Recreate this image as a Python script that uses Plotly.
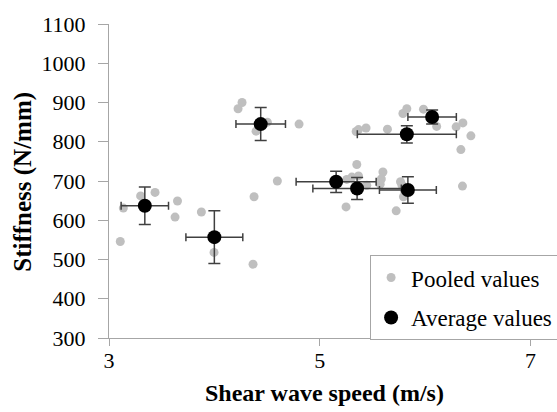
import plotly.graph_objects as go

# Pooled values (shear wave speed m/s, stiffness N/mm)
pooled_x = [3.107, 3.136, 3.30, 3.437, 3.65, 3.627, 3.877, 3.997, 4.367, 4.377,
            4.225, 4.263, 4.396, 4.503, 4.804, 4.598,
            5.352, 5.305, 5.368, 5.257, 5.447, 5.25, 5.60, 5.585, 5.574, 5.767,
            5.78, 5.795, 5.726, 6.355,
            5.368, 5.44, 5.346, 5.643, 5.79, 5.827, 5.985, 6.11, 6.295, 6.359,
            6.435, 6.34]
pooled_y = [546, 631, 662, 671, 649, 608, 621, 518, 488, 660,
            884, 900, 827, 850, 845, 700,
            742, 710, 713, 704, 689, 634, 723, 705, 692, 698,
            690, 660, 624, 687,
            831, 835, 826, 832, 872, 884, 883, 839, 838, 848,
            815, 780]

# Average values with standard deviations
avg_x = [3.34, 4.00, 4.44, 5.156, 5.355, 5.837, 5.827, 6.067]
avg_y = [637, 557, 845, 698, 681, 677, 819, 863]
avg_xerr = [0.225, 0.27, 0.235, 0.38, 0.42, 0.27, 0.47, 0.23]
avg_yerr = [48, 67, 42, 27, 28, 34, 22, 18]

serif = "Liberation Serif"
axis_col = "#a6a6a6"

fig = go.Figure()
fig.add_trace(go.Scatter(
    x=pooled_x, y=pooled_y, mode="markers", name="Pooled values",
    legendgroup="a",
    marker=dict(color="#bfbfbf", size=9),
))
fig.add_trace(go.Scatter(
    x=avg_x, y=avg_y, mode="markers", name="Average values",
    legendgroup="b",
    marker=dict(color="#000000", size=14),
    error_x=dict(type="data", array=avg_xerr, color="#404040", thickness=1.5, width=4),
    error_y=dict(type="data", array=avg_yerr, color="#404040", thickness=1.5, width=6),
))

fig.update_layout(
    width=557, height=412,
    margin=dict(l=109, r=15, t=24, b=74, autoexpand=False),
    paper_bgcolor="white", plot_bgcolor="white",
    font=dict(family=serif, size=22, color="#000000"),
    showlegend=True,
    legend=dict(
        x=0.603, y=0.264, xanchor="left", yanchor="top",
        bordercolor="#a6a6a6", borderwidth=1, bgcolor="white",
        font=dict(family=serif, size=23, color="#000000"),
        tracegroupgap=7, traceorder="grouped",
    ),
    xaxis=dict(
        range=[3, 7.11], tickvals=[3, 5, 7], ticktext=["3", "5", "7"],
        showgrid=False, zeroline=False, showline=True,
        linecolor=axis_col, linewidth=1.3,
        ticks="outside", ticklen=7, tickcolor=axis_col, tickwidth=1.3,
        tickfont=dict(family=serif, size=22, color="#000000"),
        ticklabelstandoff=-5,
    ),
    yaxis=dict(
        range=[300, 1100], tickvals=list(range(300, 1101, 100)),
        showgrid=False, zeroline=False, showline=True,
        linecolor=axis_col, linewidth=1.3,
        ticks="outside", ticklen=10, tickcolor=axis_col, tickwidth=1.3,
        tickfont=dict(family=serif, size=22, color="#000000"),
        ticklabelstandoff=8,
    ),
    annotations=[
        dict(text="<b>Shear wave speed (m/s)</b>", xref="paper", yref="paper",
             x=0.498, y=-0.175, xanchor="center", yanchor="middle",
             showarrow=False, font=dict(family=serif, size=24, color="#000000")),
        dict(text="<b>Stiffness (N/mm)</b>", xref="paper", yref="paper",
             x=-0.199, y=0.497, xanchor="center", yanchor="middle", textangle=-90,
             showarrow=False, font=dict(family=serif, size=25, color="#000000")),
    ],
)

fig.write_html("out.html", config={"displayModeBar": False},
               post_script="document.body.style.margin='0px';")
